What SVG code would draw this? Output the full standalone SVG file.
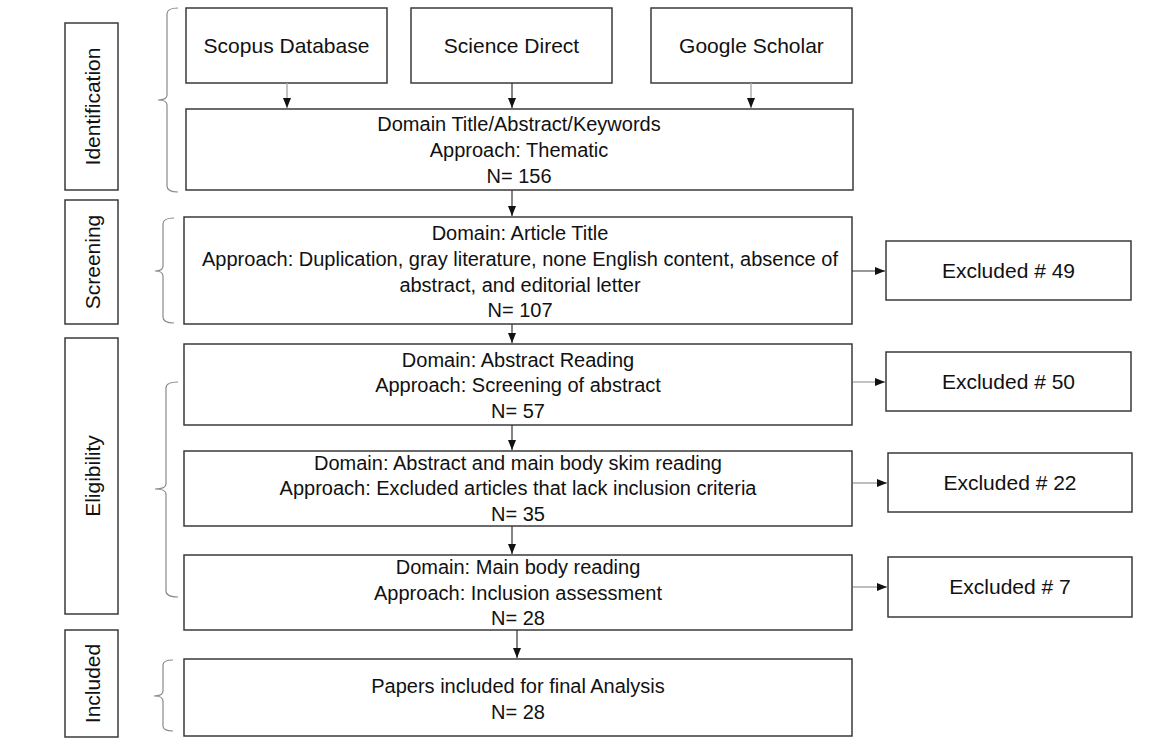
<svg xmlns="http://www.w3.org/2000/svg" width="1157" height="738" viewBox="0 0 1157 738">
<style>
.box{fill:#fff;stroke:#3a3a3a;stroke-width:1.5}
.t{font-family:"Liberation Sans",Arial,sans-serif;font-size:20px;fill:#111;text-anchor:middle}
.tl{font-family:"Liberation Sans",Arial,sans-serif;font-size:21px;fill:#111;text-anchor:middle}
.brace{fill:none;stroke:#8a8a8a;stroke-width:1.2}
.c-dark{stroke:#333;stroke-width:1.2;fill:none}
.c-gray{stroke:#a8a8a8;stroke-width:1.4;fill:none}
</style>
<defs>
<marker id="ah" markerUnits="userSpaceOnUse" markerWidth="10" markerHeight="10" viewBox="0 0 10 10" refX="10" refY="5" orient="auto">
<path d="M0,1 L10,5 L0,9 Z" fill="#111"/>
</marker>
</defs>
<rect width="1157" height="738" fill="#fff"/>

<g id="stage-labels">
<g id="label-identification"><rect class="box" x="65" y="23" width="53" height="167"/><text class="tl" font-size="23" transform="translate(99.5,106.5) rotate(-90)">Identification</text></g>
<g id="label-screening"><rect class="box" x="65" y="200" width="53" height="124"/><text class="tl" font-size="22" transform="translate(99.5,262) rotate(-90)">Screening</text></g>
<g id="label-eligibility"><rect class="box" x="65" y="338" width="53" height="276"/><text class="tl" font-size="23" transform="translate(99.5,476) rotate(-90)">Eligibility</text></g>
<g id="label-included"><rect class="box" x="65" y="630" width="53" height="107"/><text class="tl" font-size="22" transform="translate(99.5,683.5) rotate(-90)">Included</text></g>
</g>

<g id="braces">
<path class="brace" d="M178,8 Q167,8 167,14 L167,95 Q167,100 158,100 Q167,100 167,105 L167,186 Q167,192 178,192"/>
<path class="brace" d="M174,218 Q163,218 163,224 L163,266 Q163,271 155,271 Q163,271 163,276 L163,317 Q163,323 174,323"/>
<path class="brace" d="M178,382 Q166,382 166,388 L166,484 Q166,489 155,489 Q166,489 166,494 L166,591 Q166,597 178,597"/>
<path class="brace" d="M173,660 Q163,660 163,665 L163,691 Q163,696 154,696 Q163,696 163,701 L163,726 Q163,731 173,731"/>
</g>

<g id="scopus"><rect class="box" x="186" y="8" width="201" height="75"/><text class="tl" x="286.5" y="53">Scopus Database</text></g>
<g id="science-direct"><rect class="box" x="411" y="8" width="201" height="75"/><text class="tl" x="511.5" y="53">Science Direct</text></g>
<g id="google-scholar"><rect class="box" x="651" y="8" width="201" height="75"/><text class="tl" x="751.5" y="53">Google Scholar</text></g>

<g id="identification-box"><rect class="box" x="186" y="109" width="667" height="81"/>
<text class="t" x="519" y="131">Domain Title/Abstract/Keywords</text>
<text class="t" x="519" y="157">Approach: Thematic</text>
<text class="t" x="519" y="183">N= 156</text></g>

<g id="screening-box"><rect class="box" x="184" y="217" width="668" height="107"/>
<text class="t" x="520" y="240">Domain: Article Title</text>
<text class="t" x="520" y="266">Approach: Duplication, gray literature, none English content, absence of</text>
<text class="t" x="520" y="292">abstract, and editorial letter</text>
<text class="t" x="520" y="317">N= 107</text></g>

<g id="abstract-box"><rect class="box" x="184" y="344" width="668" height="81"/>
<text class="t" x="518" y="367">Domain: Abstract Reading</text>
<text class="t" x="518" y="392">Approach: Screening of abstract</text>
<text class="t" x="518" y="418">N= 57</text></g>

<g id="skim-box"><rect class="box" x="184" y="451" width="668" height="75"/>
<text class="t" x="518" y="470">Domain: Abstract and main body skim reading</text>
<text class="t" x="518" y="495">Approach: Excluded articles that lack inclusion criteria</text>
<text class="t" x="518" y="521">N= 35</text></g>

<g id="main-body-box"><rect class="box" x="184" y="555" width="668" height="75"/>
<text class="t" x="518" y="574">Domain: Main body reading</text>
<text class="t" x="518" y="600">Approach: Inclusion assessment</text>
<text class="t" x="518" y="625">N= 28</text></g>

<g id="final-box"><rect class="box" x="184" y="659" width="668" height="77"/>
<text class="t" x="518" y="693">Papers included for final Analysis</text>
<text class="t" x="518" y="719">N= 28</text></g>

<g id="excluded-49"><rect class="box" x="886" y="241" width="245" height="59"/><text class="tl" x="1008.5" y="278">Excluded # 49</text></g>
<g id="excluded-50"><rect class="box" x="886" y="352" width="245" height="59"/><text class="tl" x="1008.5" y="389">Excluded # 50</text></g>
<g id="excluded-22"><rect class="box" x="888" y="453" width="244" height="59"/><text class="tl" x="1010" y="490">Excluded # 22</text></g>
<g id="excluded-7"><rect class="box" x="888" y="557" width="244" height="60"/><text class="tl" x="1010" y="594">Excluded # 7</text></g>

<g id="connectors">
<line class="c-gray" x1="287" y1="83" x2="287" y2="108" marker-end="url(#ah)"/>
<line class="c-dark" x1="512" y1="83" x2="512" y2="108" marker-end="url(#ah)"/>
<line class="c-gray" x1="751" y1="83" x2="751" y2="108" marker-end="url(#ah)"/>
<line class="c-dark" x1="512" y1="190" x2="512" y2="216" marker-end="url(#ah)"/>
<line class="c-dark" x1="512" y1="324" x2="512" y2="343" marker-end="url(#ah)"/>
<line class="c-dark" x1="512" y1="425" x2="512" y2="450" marker-end="url(#ah)"/>
<line class="c-dark" x1="512" y1="526" x2="512" y2="554" marker-end="url(#ah)"/>
<line class="c-dark" x1="517" y1="630" x2="517" y2="658" marker-end="url(#ah)"/>
<line class="c-dark" stroke="#666" x1="852" y1="271" x2="885" y2="271" marker-end="url(#ah)"/>
<line class="c-gray" x1="853" y1="382" x2="885" y2="382" marker-end="url(#ah)"/>
<line class="c-gray" x1="853" y1="483" x2="887" y2="483" marker-end="url(#ah)"/>
<line class="c-gray" x1="853" y1="587" x2="887" y2="587" marker-end="url(#ah)"/>
</g>
</svg>
